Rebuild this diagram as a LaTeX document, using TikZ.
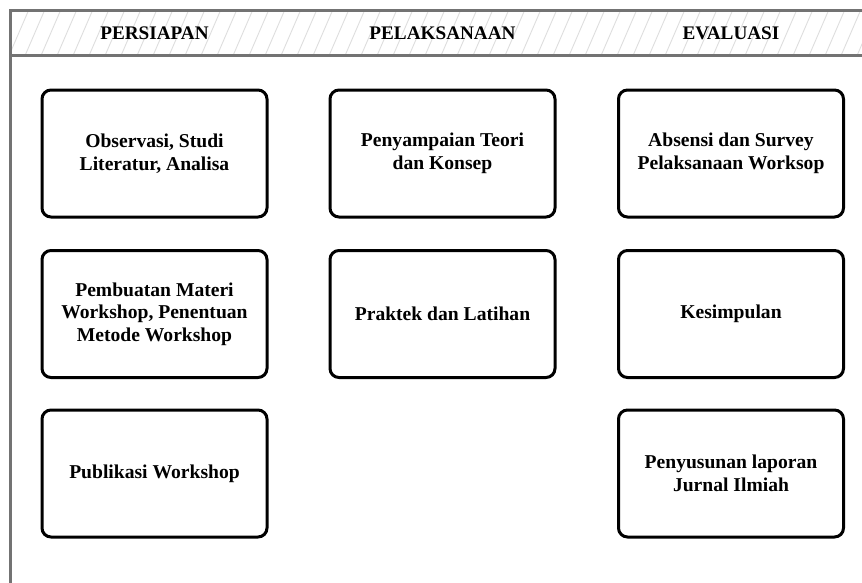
\documentclass[tikz,border=0pt]{standalone}
\usepackage{fontspec}
\setmainfont{Liberation Serif}
\begin{document}
\begin{tikzpicture}[x=1pt,y=-1pt,
  box/.style={draw=black,line width=3pt,rounded corners=9pt,fill=white,
    minimum width=225pt,minimum height=127pt,inner sep=0pt,align=center,
    font=\fontsize{19.6}{22.5}\selectfont\bfseries},
  hdr/.style={inner sep=0pt,font=\fontsize{19.2}{22}\selectfont\bfseries},
  frame/.style={draw=black!55,line width=3pt},
  hatch/.style={draw=black!13,line width=0.9pt}]
\useasboundingbox (0,0) rectangle (862,582);
\fill[white] (0,0) rectangle (862,582);
% header hatching
\begin{scope}
  \clip (10,10) rectangle (862,55);
  \foreach \i in {-40,-24,...,900} \draw[hatch] (\i,58) -- (\i+22,7);
\end{scope}
% frame
\draw[frame] (863,10) -- (10,10) -- (10,583);
\draw[frame] (10,55) -- (863,55);
% headers
\node[hdr] (h1) at (154.5,33) {PERSIAPAN};
\node[hdr] (h2) at (442.5,33) {PELAKSANAAN};
\node[hdr] (h3) at (731,33) {EVALUASI};
% column 1
\node[box] (a1) at (154.5,153.5) {Observasi, Studi\\Literatur, Analisa};
\node[box] (a2) at (154.5,314) {Pembuatan Materi\\Workshop, Penentuan\\Metode Workshop};
\node[box] (a3) at (154.5,473.5) {Publikasi Workshop};
% column 2
\node[box] (b1) at (442.5,153.5) {Penyampaian Teori\\dan Konsep};
\node[box] (b2) at (442.5,314) {Praktek dan Latihan};
% column 3
\node[box] (c1) at (731,153.5) {Absensi dan Survey\\Pelaksanaan Worksop};
\node[box] (c2) at (731,314) {Kesimpulan};
\node[box] (c3) at (731,473.5) {Penyusunan laporan\\Jurnal Ilmiah};
\end{tikzpicture}
\end{document}
